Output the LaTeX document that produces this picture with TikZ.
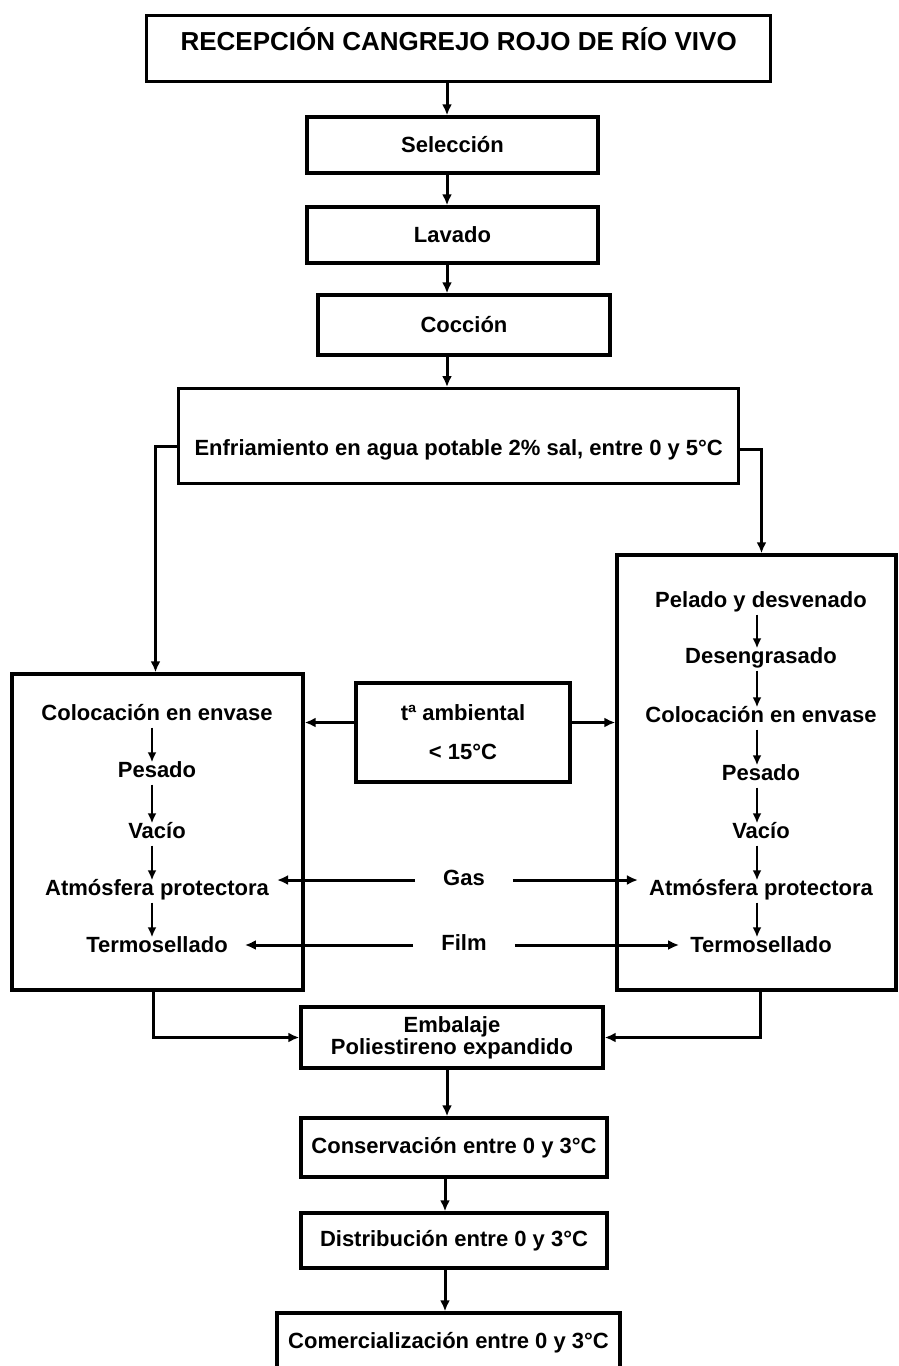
\documentclass[tikz,border=0pt]{standalone}
\usepackage{fontspec}
\setmainfont{Liberation Sans}
\usetikzlibrary{arrows.meta}
\newcommand\bodyfs{\fontsize{22}{22}\selectfont\bfseries}
\newcommand\titlefs{\fontsize{26}{28}\selectfont\bfseries}
\begin{document}
\begin{tikzpicture}[x=1pt,y=-1pt,
  box/.style={draw, line width=3.4pt, inner sep=0pt, font=\bodyfs, align=center},
  item/.style={inner sep=2pt, font=\bodyfs, text height=16pt, text depth=5pt},
  arr/.style={-{Latex[length=11pt,width=10pt]}, line width=3pt},
  iarr/.style={-{Latex[length=10pt,width=9pt]}, line width=2.6pt}]
\path[use as bounding box] (0,0) rectangle (898,1366);
\clip (0,0) rectangle (898,1366);
\coordinate (xa) at (447,0);
\coordinate (xb) at (445,0);
% main chain
\node[box, font=\titlefs, anchor=north west, minimum width=624pt, text height=35pt, text depth=31pt] (recep) at (145,14) {RECEPCIÓN CANGREJO ROJO DE RÍO VIVO};
\node[box, minimum width=291pt, minimum height=56pt] (selec) at (452.5,145) {Selección};
\node[box, minimum width=291pt, minimum height=56pt] (lavado) at (452.5,235) {Lavado};
\node[box, minimum width=292pt, minimum height=60pt] (coccion) at (464,325) {Cocción};
\node[box, anchor=north west, minimum width=560pt, text height=67pt, text depth=28pt] (enfri) at (177,387) {Enfriamiento en agua potable 2\% sal, entre 0 y 5°C};
% big boxes
\node[box, minimum width=291pt, minimum height=316pt] (lbox) at (157.5,832) {};
\node[box, minimum width=279pt, minimum height=435pt] (rbox) at (756.5,772.5) {};
\node[box, minimum width=214pt, minimum height=99pt] (temp) at (463,732.5) {tª ambiental\\[17pt]< 15°C};
% left items
\node[item] (lcol) at (157,715) {Colocación en envase};
\node[item] (lpes) at (157,772) {Pesado};
\node[item] (lvac) at (157,833) {Vacío};
\node[item] (latm) at (157,890) {Atmósfera protectora};
\node[item] (lterm) at (157,947) {Termosellado};
% right items
\node[item] (rpel) at (761,602) {Pelado y desvenado};
\node[item] (rdes) at (761,658) {Desengrasado};
\node[item] (rcol) at (761,717) {Colocación en envase};
\node[item] (rpes) at (761,775) {Pesado};
\node[item] (rvac) at (761,833) {Vacío};
\node[item] (ratm) at (761,890) {Atmósfera protectora};
\node[item] (rterm) at (761,947) {Termosellado};
% gas / film
\node[item] (gas) at (464,880) {Gas};
\node[item] (film) at (464,945) {Film};
% bottom chain
\node[box, minimum width=302pt, minimum height=61pt] (emb) at (452,1037.5) {Embalaje\\Poliestireno expandido};
\node[box, minimum width=306pt, minimum height=59pt] (cons) at (454,1147.5) {Conservación entre 0 y 3°C};
\node[box, minimum width=306pt, minimum height=55pt] (dist) at (454,1240.5) {Distribución entre 0 y 3°C};
\node[box, minimum width=343pt, minimum height=59pt] (comer) at (448.5,1342.5) {Comercialización entre 0 y 3°C};
% connectors main
\draw[arr] (recep.south -| xa) -- (selec.north -| xa);
\draw[arr] (selec.south -| xa) -- (lavado.north -| xa);
\draw[arr] (lavado.south -| xa) -- (coccion.north -| xa);
\draw[arr] (coccion.south -| xa) -- (enfri.north -| xa);
\draw[arr] ([yshift=-10pt]enfri.west) -| ([xshift=-2pt]lbox.north);
\draw[arr] ([yshift=-13pt]enfri.east) -| ([xshift=5pt]rbox.north);
\draw[arr] ([yshift=10pt]temp.west) -- ([yshift=10pt]temp.west -| lbox.east);
\draw[arr] ([yshift=10pt]temp.east) -- ([yshift=10pt]temp.east -| rbox.west);
% left inner
\draw[iarr] ([xshift=-5pt]lcol.south) -- ([xshift=-5pt,yshift=-3pt]lpes.north);
\draw[iarr] ([xshift=-5pt]lpes.south) -- ([xshift=-5pt,yshift=-3pt]lvac.north);
\draw[iarr] ([xshift=-5pt]lvac.south) -- ([xshift=-5pt,yshift=-3pt]latm.north);
\draw[iarr] ([xshift=-5pt]latm.south) -- ([xshift=-5pt,yshift=-3pt]lterm.north);
% right inner
\draw[iarr] ([xshift=-4pt]rpel.south) -- ([xshift=-4pt,yshift=-3pt]rdes.north);
\draw[iarr] ([xshift=-4pt]rdes.south) -- ([xshift=-4pt,yshift=-3pt]rcol.north);
\draw[iarr] ([xshift=-4pt]rcol.south) -- ([xshift=-4pt,yshift=-3pt]rpes.north);
\draw[iarr] ([xshift=-4pt]rpes.south) -- ([xshift=-4pt,yshift=-3pt]rvac.north);
\draw[iarr] ([xshift=-4pt]rvac.south) -- ([xshift=-4pt,yshift=-3pt]ratm.north);
\draw[iarr] ([xshift=-4pt]ratm.south) -- ([xshift=-4pt,yshift=-3pt]rterm.north);
% gas / film arrows
\draw[arr, shorten <=26pt, shorten >=6pt] (gas.west) -- (gas.west -| latm.east);
\draw[arr, shorten <=26pt, shorten >=9pt] (gas.east) -- (gas.east -| ratm.west);
\draw[arr, shorten <=26pt, shorten >=15pt] (film.west) -- (film.west -| lterm.east);
\draw[arr, shorten <=26pt, shorten >=9pt] (film.east) -- (film.east -| rterm.west);
% into embalaje
\draw[arr] ([xshift=-4pt]lbox.south) |- (emb.west);
\draw[arr] ([xshift=4pt]rbox.south) |- (emb.east);
% bottom chain
\draw[arr] (emb.south -| xa) -- (cons.north -| xa);
\draw[arr] (cons.south -| xb) -- (dist.north -| xb);
\draw[arr] (dist.south -| xb) -- (comer.north -| xb);
\end{tikzpicture}
\end{document}
